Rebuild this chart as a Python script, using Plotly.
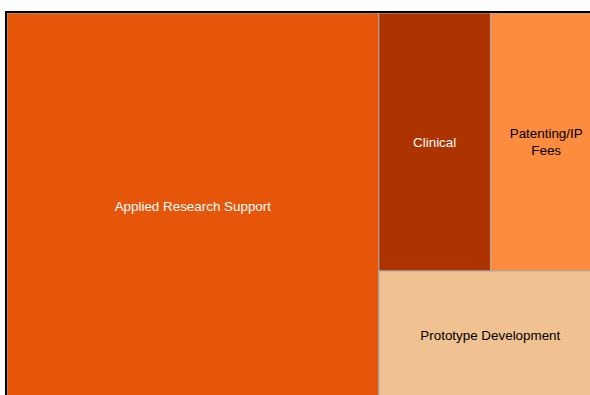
import plotly.graph_objects as go

labels = ["Applied Research Support", "Clinical", "Patenting/IP Fees", "Prototype Development"]
display_text = ["Applied Research Support", "Clinical", "Patenting/IP<br>Fees", "Prototype Development"]
values = [5, 1, 1, 1]
colors = ["#e5550a", "#ad3400", "#fd8c3e", "#f0c292"]
text_colors = ["#ffffff", "#ffffff", "#000000", "#000000"]

W, H = 612, 415
ml, mt, mr, mb = 7, 13, 10, 15
pw, ph = W - ml - mr, H - mt - mb

fig = go.Figure(go.Treemap(
    labels=labels,
    parents=[""] * len(labels),
    values=values,
    text=display_text,
    texttemplate="%{text}",
    textposition="middle center",
    textfont=dict(family="Liberation Sans, Arial, sans-serif", size=13.4, color=text_colors),
    marker=dict(colors=colors, line=dict(color="#a8a8a8", width=1), pad=dict(t=0, l=0, r=0, b=0)),
    pathbar=dict(visible=False),
    tiling=dict(pad=0, packing="squarify", squarifyratio=1.618034),
    sort=True,
    hoverinfo="label+value",
))

fig.update_layout(
    width=W, height=H,
    margin=dict(l=ml, r=mr, t=mt, b=mb),
    paper_bgcolor="white",
    showlegend=False,
    shapes=[dict(type="rect", xref="paper", yref="paper",
                 x0=-1.0 / pw, x1=1 + 1.0 / pw, y0=-1.0 / ph, y1=1 + 1.0 / ph,
                 line=dict(color="black", width=2), fillcolor="rgba(0,0,0,0)", layer="above")],
)

fig.write_html("out.html", post_script="document.body.style.margin='0';document.body.style.overflow='hidden';document.documentElement.style.overflow='hidden';")
